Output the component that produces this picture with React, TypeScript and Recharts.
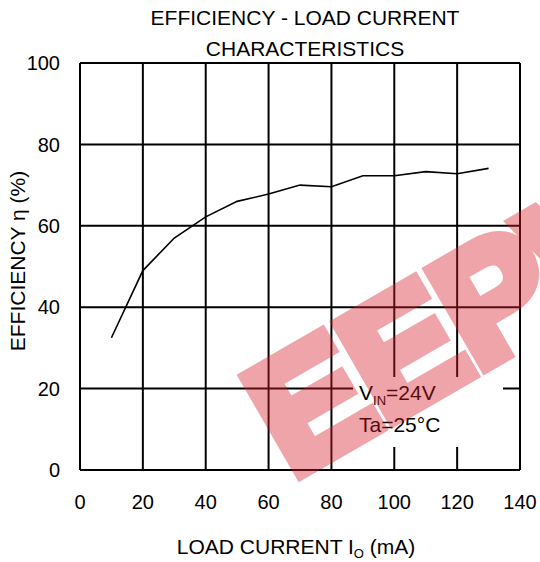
import { LineChart, Line, XAxis, YAxis, CartesianGrid } from 'recharts';

// Efficiency vs load current, VIN = 24V, Ta = 25°C
const loadCurrent = [10, 20, 30, 40, 50, 60, 70, 80, 90, 100, 110, 120, 130];
const efficiency = [32.5, 49, 57, 62.2, 66, 67.8, 70, 69.6, 72.3, 72.3, 73.3, 72.8, 74.1];
const xTicks = [0, 20, 40, 60, 80, 100, 120, 140];
const yTicks = [0, 20, 40, 60, 80, 100];

const data = loadCurrent.map((io, i) => ({ io, eff: efficiency[i] }));

const FONT = '"Liberation Sans", Arial, sans-serif';

export default function App() {
  return (
    <div
      style={{
        position: 'absolute',
        left: 0,
        top: 0,
        width: 540,
        height: 562,
        background: '#fff',
        overflow: 'hidden',
        fontFamily: FONT,
      }}
    >
      <LineChart
        width={540}
        height={562}
        data={data}
        margin={{ top: 63, right: 20, bottom: 42, left: 20 }}
      >
        <CartesianGrid stroke="#000" strokeWidth={2} />
        <XAxis
          dataKey="io"
          type="number"
          domain={[0, 140]}
          ticks={xTicks}
          axisLine={false}
          tickLine={false}
          tickSize={0}
          tickMargin={25}
          height={50}
          tick={{ fontSize: 20, fill: '#000', fontFamily: FONT }}
        />
        <YAxis
          type="number"
          domain={[0, 100]}
          ticks={yTicks}
          axisLine={false}
          tickLine={false}
          tickSize={0}
          tickMargin={20}
          width={60}
          tick={{ fontSize: 20, fill: '#000', fontFamily: FONT }}
        />
        <Line
          type="linear"
          dataKey="eff"
          stroke="#000"
          strokeWidth={1.6}
          dot={false}
          isAnimationActive={false}
        />
      </LineChart>

      {/* titles and axis labels */}
      <svg
        width={540}
        height={562}
        style={{ position: 'absolute', left: 0, top: 0, pointerEvents: 'none' }}
      >
        <g fontFamily={FONT} fill="#000" fontSize={21} textAnchor="middle">
          <text x={305} y={25}>EFFICIENCY - LOAD CURRENT</text>
          <text x={305} y={56}>CHARACTERISTICS</text>
          <text x={296} y={554}>
            LOAD CURRENT I<tspan fontSize={13} dy={4}>O</tspan>
            <tspan dy={-4}> (mA)</tspan>
          </text>
          <text x={25} y={261} transform="rotate(-90 25 261)">
            EFFICIENCY η (%)
          </text>
        </g>
      </svg>

      {/* annotation box */}
      <div
        style={{
          position: 'absolute',
          left: 353,
          top: 377,
          width: 150,
          height: 70,
          background: '#fff',
        }}
      >
        <svg width={150} height={70}>
          <g fontFamily={FONT} fontSize={21} fill="#000">
            <text x={6} y={23}>
              V<tspan fontSize={13} dy={5}>IN</tspan>
              <tspan dy={-5}>=24V</tspan>
            </text>
            <text x={6} y={55}>Ta=25°C</text>
          </g>
        </svg>
      </div>

      {/* watermark */}
      <svg
        width={540}
        height={562}
        style={{ position: 'absolute', left: 0, top: 0, pointerEvents: 'none' }}
      >
        <g opacity={0.4}>
          <text
            x={292}
            y={478}
            transform="rotate(-30 292 478)"
            fontFamily={FONT}
            fontWeight="bold"
            fontSize={160}
            fill="rgb(215,30,40)"
            stroke="rgb(215,30,40)"
            strokeWidth={14}
            strokeLinejoin="miter"
          >
            EEPW
          </text>
        </g>
      </svg>
    </div>
  );
}
